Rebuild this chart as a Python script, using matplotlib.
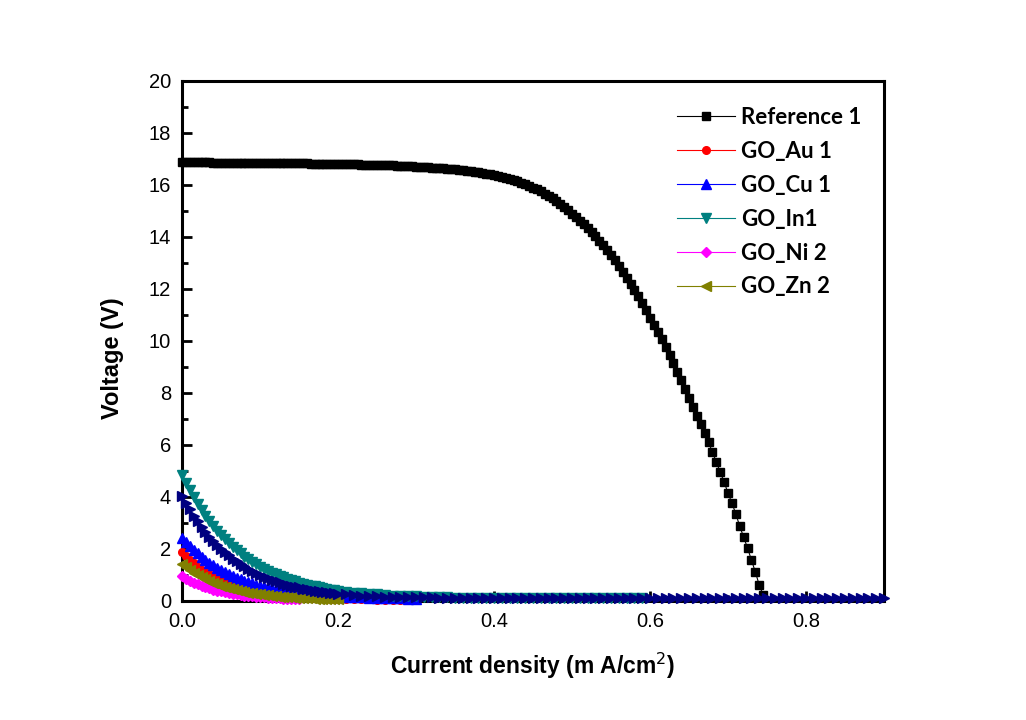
import numpy as np
import matplotlib
matplotlib.use('Agg')
import matplotlib.pyplot as plt
from matplotlib.ticker import MultipleLocator, FormatStrFormatter

# datos
x_ref = np.round(np.arange(150) * 0.005, 3)
v_ref = [16.88, 16.88, 16.88, 16.87, 16.87, 16.87, 16.87, 16.87, 16.86, 16.86,
         16.86, 16.86, 16.86, 16.86, 16.85, 16.85, 16.85, 16.85, 16.85, 16.85,
         16.85, 16.84, 16.84, 16.84, 16.84, 16.84, 16.84, 16.83, 16.83, 16.83,
         16.83, 16.83, 16.83, 16.82, 16.82, 16.82, 16.82, 16.81, 16.81, 16.81,
         16.80, 16.80, 16.80, 16.79, 16.79, 16.79, 16.78, 16.78, 16.77, 16.77,
         16.77, 16.76, 16.76, 16.75, 16.75, 16.74, 16.74, 16.73, 16.72, 16.72,
         16.71, 16.70, 16.69, 16.68, 16.67, 16.66, 16.65, 16.64, 16.63, 16.61,
         16.60, 16.58, 16.57, 16.55, 16.53, 16.51, 16.49, 16.47, 16.44, 16.42,
         16.39, 16.36, 16.32, 16.28, 16.24, 16.19, 16.14, 16.09, 16.03, 15.97,
         15.90, 15.83, 15.75, 15.67, 15.58, 15.49, 15.39, 15.28, 15.17, 15.05,
         14.90, 14.77, 14.63, 14.49, 14.34, 14.18, 14.02, 13.85, 13.68, 13.50,
         13.30, 13.10, 12.88, 12.65, 12.43, 12.20, 11.97, 11.72, 11.46, 11.18,
         10.90, 10.63, 10.35, 10.06, 9.77, 9.46, 9.15, 8.82, 8.50, 8.17,
         7.82, 7.48, 7.12, 6.80, 6.46, 6.10, 5.73, 5.35, 4.96, 4.58,
         4.15, 3.77, 3.35, 2.88, 2.46, 2.04, 1.58, 1.12, 0.62, 0.23]

x_go = np.round(np.concatenate([np.arange(41) * 0.005, 0.21 + np.arange(70) * 0.01]), 3)

v_au = [1.88, 1.72, 1.58, 1.45, 1.32, 1.21, 1.11, 1.02, 0.94, 0.86,
        0.79, 0.72, 0.66, 0.61, 0.56, 0.52, 0.47, 0.44, 0.40, 0.37,
        0.34, 0.31, 0.29, 0.27, 0.25, 0.23, 0.21, 0.20, 0.18, 0.17,
        0.16, 0.15, 0.14, 0.13, 0.12, 0.11, 0.10, 0.10, 0.09, 0.09,
        0.08, 0.07, 0.07, 0.06, 0.06, 0.05, 0.05, 0.05, 0.04, 0.04]
v_cu = [2.44, 2.27, 2.11, 1.97, 1.83, 1.70, 1.59, 1.48, 1.37, 1.28,
        1.19, 1.11, 1.03, 0.96, 0.90, 0.84, 0.78, 0.73, 0.68, 0.63,
        0.59, 0.55, 0.52, 0.48, 0.45, 0.42, 0.39, 0.37, 0.35, 0.32,
        0.30, 0.29, 0.27, 0.25, 0.24, 0.22, 0.21, 0.20, 0.19, 0.18,
        0.17, 0.16, 0.15, 0.14, 0.13, 0.12, 0.11, 0.10, 0.10, 0.09, 0.09]
v_in = [4.86, 4.55, 4.26, 3.99, 3.74, 3.50, 3.28, 3.07, 2.88, 2.69,
        2.52, 2.37, 2.22, 2.08, 1.95, 1.83, 1.71, 1.60, 1.50, 1.41,
        1.32, 1.24, 1.17, 1.09, 1.03, 0.97, 0.91, 0.85, 0.80, 0.75,
        0.71, 0.67, 0.63, 0.59, 0.56, 0.52, 0.49, 0.47, 0.44, 0.42,
        0.39, 0.35, 0.32, 0.29, 0.27, 0.25, 0.23, 0.21, 0.20, 0.19,
        0.18, 0.17, 0.16, 0.15, 0.14, 0.13, 0.12, 0.11, 0.11, 0.10,
        0.10, 0.10, 0.10, 0.10, 0.10, 0.10, 0.10, 0.10, 0.10, 0.10,
        0.10, 0.10, 0.10, 0.10, 0.10, 0.10, 0.10, 0.10, 0.10, 0.10]
v_ni = [0.95, 0.86, 0.78, 0.71, 0.65, 0.59, 0.54, 0.49, 0.44, 0.40,
        0.37, 0.34, 0.31, 0.28, 0.26, 0.23, 0.21, 0.20, 0.18, 0.17,
        0.15, 0.14, 0.13, 0.12, 0.11, 0.10, 0.09, 0.09, 0.08, 0.08, 0.07]
v_zn = [1.41, 1.29, 1.18, 1.08, 0.99, 0.91, 0.83, 0.76, 0.70, 0.64,
        0.59, 0.54, 0.49, 0.45, 0.42, 0.38, 0.35, 0.32, 0.30, 0.28,
        0.25, 0.23, 0.22, 0.20, 0.19, 0.17, 0.16, 0.15, 0.14, 0.13,
        0.12, 0.11, 0.10, 0.10, 0.09, 0.09, 0.08, 0.08, 0.07, 0.07, 0.07]
# serie sin etiqueta en la leyenda (azul marino)
v_extra = [4.05, 3.77, 3.52, 3.28, 3.06, 2.85, 2.66, 2.48, 2.31, 2.15,
           2.01, 1.87, 1.75, 1.63, 1.52, 1.42, 1.33, 1.24, 1.16, 1.08,
           1.01, 0.94, 0.88, 0.82, 0.77, 0.72, 0.67, 0.63, 0.59, 0.55,
           0.52, 0.48, 0.45, 0.43, 0.40, 0.38, 0.35, 0.33, 0.31, 0.29,
           0.28, 0.25, 0.22, 0.20, 0.19, 0.18, 0.17, 0.16, 0.15, 0.15,
           0.14, 0.14, 0.14, 0.13, 0.13, 0.13, 0.13, 0.13, 0.13, 0.12,
           0.12, 0.12, 0.12, 0.12, 0.12, 0.12, 0.12, 0.12, 0.12, 0.12,
           0.12, 0.12, 0.12, 0.12, 0.12, 0.12, 0.12, 0.12, 0.12, 0.12,
           0.12, 0.12, 0.12, 0.12, 0.12, 0.12, 0.12, 0.12, 0.12, 0.12,
           0.12, 0.12, 0.12, 0.12, 0.12, 0.12, 0.12, 0.12, 0.12, 0.12,
           0.12, 0.12, 0.12, 0.12, 0.12, 0.12, 0.12, 0.12, 0.12, 0.12, 0.12]

series = [
    ('Reference 1', x_ref, v_ref, 'black', 's', 5.5),
    ('GO_Au 1', x_go, v_au, 'red', 'o', 5.5),
    ('GO_Cu 1', x_go, v_cu, 'blue', '^', 7),
    ('GO_In1', x_go, v_in, '#008080', 'v', 7),
    ('GO_Ni 2', x_go, v_ni, 'magenta', 'D', 5),
    ('GO_Zn 2', x_go, v_zn, '#808000', '<', 7),
    ('_extra', x_go, v_extra, '#000080', '>', 7),
]

fig = plt.figure(figsize=(10.26, 7.2), dpi=100)
ax = fig.add_axes([0.1774, 0.1653, 0.6842, 0.7222])

for lab, xs, vs, col, mk, ms in series:
    ax.plot(xs[:len(vs)], vs, color=col, marker=mk, markersize=ms, lw=0.8,
            markeredgecolor=col, label=lab, clip_on=False)

ax.set_xlim(0, 0.9)
ax.set_ylim(0, 20)
ax.xaxis.set_major_locator(MultipleLocator(0.2))
ax.xaxis.set_minor_locator(MultipleLocator(0.1))
ax.yaxis.set_major_locator(MultipleLocator(2))
ax.yaxis.set_minor_locator(MultipleLocator(1))
ax.xaxis.set_major_formatter(FormatStrFormatter('%.1f'))

for s in ax.spines.values():
    s.set_linewidth(2.2)
    s.set_zorder(1)
ax.tick_params(which='both', direction='in', top=False, right=False, width=2)
ax.tick_params(which='major', length=7, pad=8)
ax.tick_params(which='minor', length=4)
for t in ax.get_xticklabels() + ax.get_yticklabels():
    t.set_family('Liberation Sans')
    t.set_fontsize(14.5)

ax.set_xlabel('Current density (m A/cm$^2$)', fontsize=16.5, fontweight='bold',
              family='Liberation Sans', labelpad=14)
ax.set_ylabel('Voltage (V)', fontsize=17, fontweight='bold',
              family='Liberation Sans', labelpad=14)
ax.yaxis.set_label_coords(-0.083, 0.467)

leg = ax.legend(loc='upper left', bbox_to_anchor=(0.705, 0.95), frameon=False,
                borderpad=0, borderaxespad=0, handlelength=2.6, handletextpad=0.3,
                labelspacing=0.58, prop={'family': 'Lato', 'weight': 'bold', 'size': 16})

fig.savefig('out.png', dpi=100)
